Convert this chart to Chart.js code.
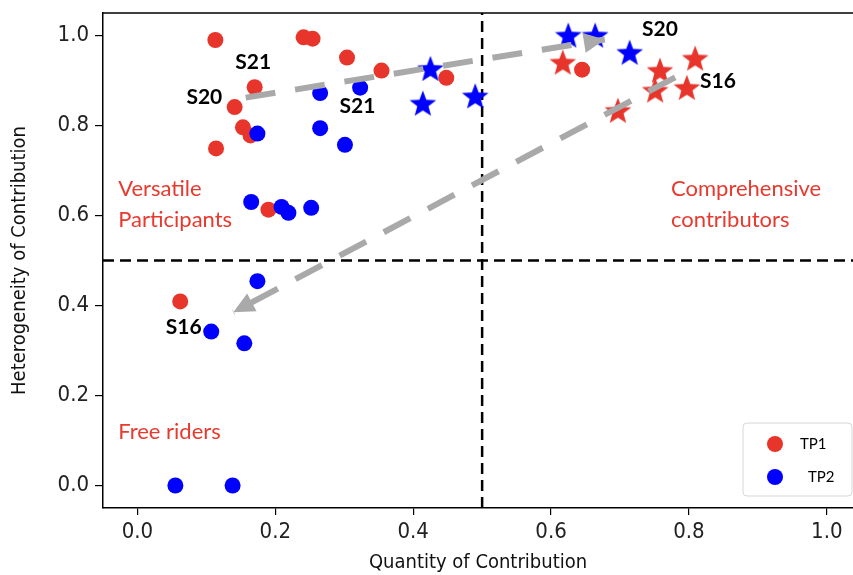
<!DOCTYPE html>
<html>
<head>
<meta charset="utf-8">
<script src="https://cdn.jsdelivr.net/npm/chart.js@4.4.0/dist/chart.umd.min.js"></script>
<style>
  html, body { margin: 0; padding: 0; background: #fff; }
  #wrap { width: 853px; height: 575px; }
</style>
</head>
<body>
<div id="wrap"><canvas id="chart"></canvas></div>
<script>
// TP1 (red) circles
const tp1X = [0.113, 0.241, 0.254, 0.304, 0.354, 0.448, 0.170, 0.141, 0.153, 0.164, 0.114, 0.190, 0.062, 0.645];
const tp1Y = [0.990, 0.996, 0.993, 0.951, 0.922, 0.906, 0.885, 0.841, 0.796, 0.778, 0.749, 0.613, 0.409, 0.924];
// TP2 (blue) circles
const tp2X = [0.265, 0.323, 0.174, 0.265, 0.301, 0.165, 0.209, 0.219, 0.252, 0.174, 0.107, 0.155, 0.055, 0.138];
const tp2Y = [0.872, 0.884, 0.782, 0.794, 0.757, 0.630, 0.619, 0.606, 0.617, 0.454, 0.342, 0.316, 0.000, 0.000];
// stars
const tp1StarX = [0.617, 0.758, 0.809, 0.751, 0.797, 0.697];
const tp1StarY = [0.940, 0.922, 0.949, 0.878, 0.884, 0.833];
const tp2StarX = [0.425, 0.414, 0.490, 0.625, 0.664, 0.714];
const tp2StarY = [0.926, 0.849, 0.865, 1.000, 1.000, 0.962];
// gray arrows (start -> end)
const arrowS20X = [0.157, 0.678];
const arrowS20Y = [0.862, 0.991];
const arrowS16X = [0.780, 0.139];
const arrowS16Y = [0.907, 0.385];
// quadrant split
const splitValue = 0.5;
const xTicks = [0.0, 0.2, 0.4, 0.6, 0.8, 1.0];
const yTicks = [0.0, 0.2, 0.4, 0.6, 0.8, 1.0];

// text labels (data coords)
const pointLabels = [
  { text: 'S21', x: 0.168, y: 0.940 },
  { text: 'S20', x: 0.097, y: 0.862 },
  { text: 'S21', x: 0.319, y: 0.842 },
  { text: 'S20', x: 0.758, y: 1.013 },
  { text: 'S16', x: 0.842, y: 0.898 },
  { text: 'S16', x: 0.067, y: 0.351 }
];
const quadrantLabels = [
  { text: 'Versatile', x: -0.028, y: 0.660 },
  { text: 'Participants', x: -0.028, y: 0.591 },
  { text: 'Comprehensive', x: 0.774, y: 0.658 },
  { text: 'contributors', x: 0.774, y: 0.591 },
  { text: 'Free riders', x: -0.028, y: 0.118 }
];

const RED = '#e8352b';
const BLUE = '#0000ff';
const GRAY = '#a9a9a9';
const QUAD_RED = '#e8392f';

function zip(xs, ys) {
  return xs.map((x, i) => ({ x: x, y: ys[i] }));
}

function makeStar(color, r) {
  const size = Math.ceil(r * 2 + 2);
  const c = document.createElement('canvas');
  c.width = size; c.height = size;
  const g = c.getContext('2d');
  const cx = size / 2, cy = size / 2 + 1, inner = r * 0.42;
  g.beginPath();
  for (let i = 0; i < 10; i++) {
    const rad = i % 2 === 0 ? r : inner;
    const a = -Math.PI / 2 + i * Math.PI / 5;
    const px = cx + rad * Math.cos(a), py = cy + rad * Math.sin(a);
    if (i === 0) g.moveTo(px, py); else g.lineTo(px, py);
  }
  g.closePath();
  g.fillStyle = color;
  g.fill();
  return c;
}

const redStar = makeStar(RED, 14);
const blueStar = makeStar(BLUE, 14);

const arrowStyle = {
  type: 'line', showLine: true, borderColor: GRAY, borderWidth: 6,
  borderDash: [30, 20], borderCapStyle: 'butt', pointRadius: 0, fill: false, order: 0, arrow: true
};
const splitStyle = {
  type: 'line', showLine: true, borderColor: '#000', borderWidth: 2.5,
  borderDash: [11, 6], pointRadius: 0, fill: false, order: 9
};

const overlayPlugin = {
  id: 'overlay',
  afterDatasetsDraw(chart) {
    const ctx = chart.ctx;
    const xs = chart.scales.x, ys = chart.scales.y;
    const area = chart.chartArea;
    ctx.save();
    // top frame
    ctx.strokeStyle = '#000';
    ctx.lineWidth = 1.5;
    ctx.beginPath();
    ctx.moveTo(area.left, area.top);
    ctx.lineTo(area.right, area.top);
    ctx.stroke();

    // arrow heads
    chart.data.datasets.forEach((ds) => {
      if (!ds.arrow) return;
      const n = ds.data.length;
      const p0 = ds.data[n - 2], p1 = ds.data[n - 1];
      const x0 = xs.getPixelForValue(p0.x), y0 = ys.getPixelForValue(p0.y);
      const x1 = xs.getPixelForValue(p1.x), y1 = ys.getPixelForValue(p1.y);
      const ang = Math.atan2(y1 - y0, x1 - x0);
      const len = 21, half = 10;
      ctx.fillStyle = GRAY;
      ctx.beginPath();
      ctx.moveTo(x1, y1);
      ctx.lineTo(x1 - len * Math.cos(ang) + half * Math.sin(ang), y1 - len * Math.sin(ang) - half * Math.cos(ang));
      ctx.lineTo(x1 - len * Math.cos(ang) - half * Math.sin(ang), y1 - len * Math.sin(ang) + half * Math.cos(ang));
      ctx.closePath();
      ctx.fill();
    });

    // S labels
    ctx.fillStyle = '#000';
    ctx.font = 'bold 21px Lato';
    ctx.textAlign = 'center';
    ctx.textBaseline = 'middle';
    pointLabels.forEach(l => {
      ctx.fillText(l.text, xs.getPixelForValue(l.x), ys.getPixelForValue(l.y));
    });

    // quadrant labels
    ctx.fillStyle = QUAD_RED;
    ctx.font = '22px Lato';
    ctx.textAlign = 'left';
    quadrantLabels.forEach(l => {
      ctx.fillText(l.text, xs.getPixelForValue(l.x), ys.getPixelForValue(l.y));
    });

    // legend box (lower right)
    const bx = area.right - 110, by = area.bottom - 85, bw = 109, bh = 73;
    ctx.fillStyle = 'rgba(255,255,255,0.85)';
    ctx.strokeStyle = '#d6d6d6';
    ctx.lineWidth = 1;
    ctx.beginPath();
    ctx.roundRect(bx, by, bw, bh, 4);
    ctx.fill();
    ctx.stroke();
    const items = chart.data.datasets.filter(d => d.inLegend).sort((a, b) => a.label.localeCompare(b.label));
    ctx.font = '15px Lato';
    ctx.textAlign = 'left';
    items.forEach((d, i) => {
      const cy = by + 21 + i * 33;
      ctx.fillStyle = d.backgroundColor;
      ctx.beginPath();
      ctx.arc(bx + 32, cy, 8, 0, Math.PI * 2);
      ctx.fill();
      ctx.fillStyle = '#000';
      ctx.fillText(d.label, bx + 57 + i * 8, cy);
    });
    ctx.restore();
  }
};

new Chart(document.getElementById('chart'), {
  type: 'scatter',
  data: {
    datasets: [
      Object.assign({ label: 'arrowS20', data: zip(arrowS20X, arrowS20Y) }, arrowStyle),
      Object.assign({ label: 'arrowS16', data: zip(arrowS16X, arrowS16Y) }, arrowStyle),
      { label: 'TP2 stars', data: zip(tp2StarX, tp2StarY), pointStyle: blueStar, order: 3 },
      { label: 'TP1 stars', data: zip(tp1StarX, tp1StarY), pointStyle: redStar, order: 4 },
      { label: 'TP2', data: zip(tp2X, tp2Y), backgroundColor: BLUE, borderWidth: 0, pointRadius: 8, order: 5, inLegend: true },
      { label: 'TP1', data: zip(tp1X, tp1Y), backgroundColor: RED, borderWidth: 0, pointRadius: 8, order: 6, inLegend: true },
      Object.assign({ label: 'vsplit', data: [{ x: splitValue, y: -0.05 }, { x: splitValue, y: 1.05 }] }, splitStyle),
      Object.assign({ label: 'hsplit', data: [{ x: -0.05, y: splitValue }, { x: 1.05, y: splitValue }] }, splitStyle)
    ]
  },
  options: {
    responsive: true,
    maintainAspectRatio: false,
    animation: false,
    clip: false,
    layout: { autoPadding: false, padding: { top: 13, right: 0, left: 0, bottom: 0 } },
    plugins: {
      legend: { display: false },
      tooltip: { enabled: false }
    },
    scales: {
      x: {
        type: 'linear', min: -0.05, max: 1.038,
        afterBuildTicks: s => { s.ticks = xTicks.map(v => ({ value: v })); },
        afterFit: s => { s.height = 67; s.paddingLeft = 0; s.paddingRight = 0; },
        ticks: { callback: v => v.toFixed(1), color: '#222', padding: 4, maxRotation: 0,
          font: { family: 'DejaVu Sans Condensed', size: 22 } },
        grid: { display: true, drawOnChartArea: false, drawTicks: true, tickLength: 7, color: '#000', lineWidth: 1.2 },
        border: { display: true, color: '#000', width: 1.5 },
        title: { display: true, text: 'Quantity of Contribution', color: '#111',
          font: { family: 'DejaVu Sans Condensed', size: 20 }, padding: { top: 0, bottom: 0 } }
      },
      y: {
        type: 'linear', min: -0.05, max: 1.05,
        afterBuildTicks: s => { s.ticks = yTicks.map(v => ({ value: v })); },
        afterFit: s => { s.width = 103; s.paddingTop = 0; s.paddingBottom = 0; },
        ticks: { callback: v => v.toFixed(1), color: '#222', padding: 6,
          font: { family: 'DejaVu Sans Condensed', size: 22 } },
        grid: { display: true, drawOnChartArea: false, drawTicks: true, tickLength: 8, color: '#000', lineWidth: 1.2 },
        border: { display: true, color: '#000', width: 1.5 },
        title: { display: true, text: 'Heterogeneity of Contribution', color: '#111',
          font: { family: 'DejaVu Sans Condensed', size: 20 }, padding: { top: 8, bottom: 0 } }
      }
    }
  },
  plugins: [overlayPlugin]
});
</script>
</body>
</html>
